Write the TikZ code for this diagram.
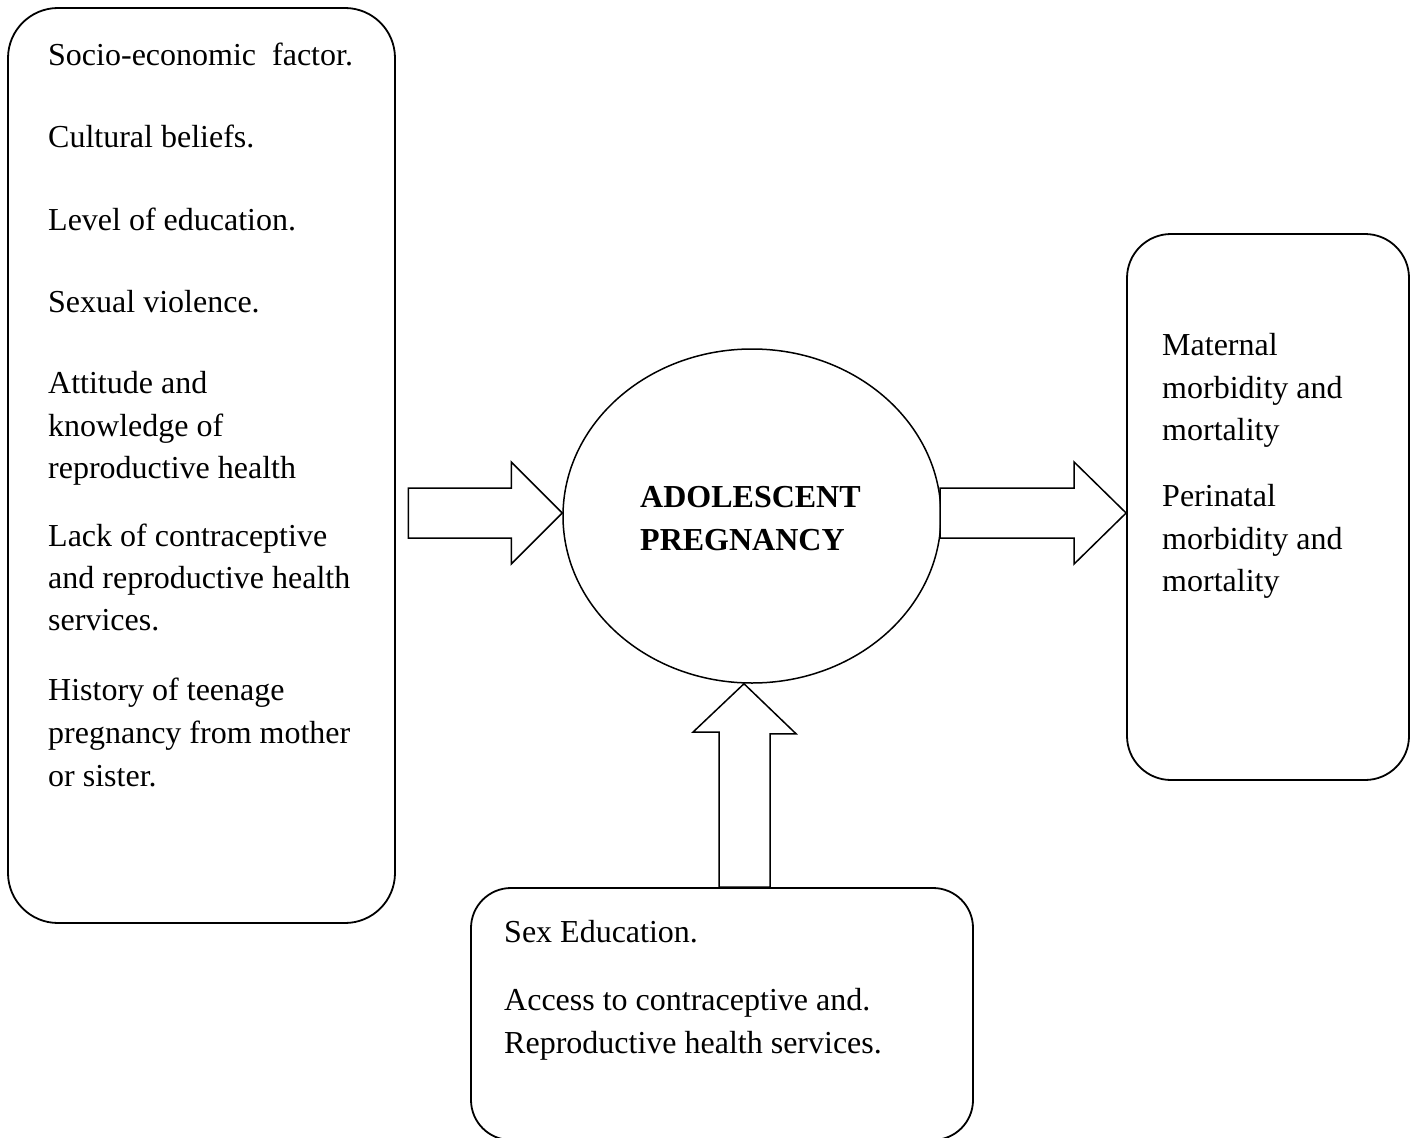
\documentclass[tikz,border=0pt]{standalone}
\usepackage{fontspec}
\setmainfont{Liberation Serif}
\usetikzlibrary{calc,shapes.geometric}
\begin{document}
\begin{tikzpicture}[x=1pt,y=-1pt,
  box/.style={draw, line width=1.8pt, rounded corners=#1, inner sep=0pt},
  box/.default=48pt,
  blockarrow/.style={draw, line width=1.5pt, line join=miter, fill=white},
  txt/.style={anchor=base west, inner sep=0pt, font=\fontsize{32}{42.7}\selectfont},
  btxt/.style={txt, font=\fontsize{32}{42.7}\selectfont\bfseries}]
\useasboundingbox (0,0) rectangle (1415,1137);
\clip (0,0) rectangle (1415,1137);

% boxes
\node[box=50pt, minimum width=387pt, minimum height=915pt] (lbox) at (201.5,465.5) {};
\node[box=44pt, minimum width=282pt, minimum height=546pt] (rbox) at (1268,507) {};
\node[box=40pt, minimum width=502pt, minimum height=252pt] (bbox) at (722,1014) {};
\node[draw, ellipse, line width=1.5pt, minimum width=378pt, minimum height=334pt, inner sep=0pt] (ell) at (752,516) {};

% block arrows
\coordinate (ltip) at ($(ell.west)+(0,-3)$);
\draw[blockarrow] (ltip) -- ++(-51,-51) -- ++(0,26) -- ++(-103,0) -- ++(0,50) -- ++(103,0) -- ++(0,26) -- cycle;
\coordinate (rtip) at (rbox.west |- ltip);
\draw[blockarrow] (rtip) -- ++(-52,-51) -- ++(0,26) -- ++(-134,0) -- ++(0,50) -- ++(134,0) -- ++(0,26) -- cycle;
\coordinate (utip) at ($(ell.south)+(-8,0)$);
\coordinate (ubase) at (utip |- bbox.north);
\draw[blockarrow] (utip) -- ++(52,50) -- ++(-26,0) -- ($(ubase)+(26,0)$) -- ++(-51,0) -- ++(0,-155) -- ++(-26,0) -- cycle;

% left texts
\foreach \yy/\tx [count=\i] in {66/{Socio-economic\ \ factor.},147/{Cultural beliefs.},230/{Level of education.},312/{Sexual violence.},393/{Attitude and},436/{knowledge of},478/{reproductive health},546/{Lack of contraceptive},588/{and reproductive health},630/{services.},700/{History of teenage},743/{pregnancy from mother},786/{or sister.}}
  \node[txt] (lt\i) at (48,\yy) {\tx};

% right texts
\foreach \yy/\tx [count=\i] in {355/{Maternal},398/{morbidity and},440/{mortality},506/{Perinatal},549/{morbidity and},591/{mortality}}
  \node[txt] (rt\i) at (1162,\yy) {\tx};

% centre
\node[btxt] (c1) at (640,507) {ADOLESCENT};
\node[btxt] (c2) at (640,550) {PREGNANCY};

% bottom texts
\node[txt] (b1) at (504,942) {Sex Education.};
\node[txt] (b2) at (504,1010) {Access to contraceptive and.};
\node[txt] (b3) at (504,1053) {Reproductive health services.};
\end{tikzpicture}
\end{document}
